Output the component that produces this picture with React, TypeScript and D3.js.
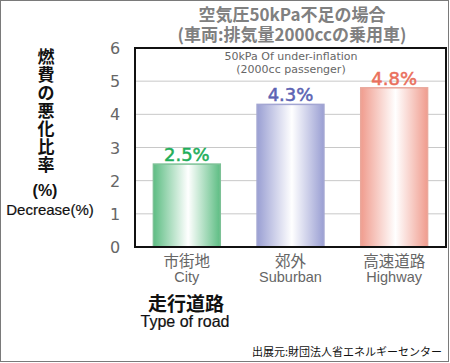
import React, { useRef, useEffect } from 'react';
import * as d3 from 'd3';

const roadsJa = ['市街地', '郊外', '高速道路'];
const roadsEn = ['City', 'Suburban', 'Highway'];
const decrease = [2.5, 4.3, 4.8];
const yTicks = [0, 1, 2, 3, 4, 5, 6];
const barColors = ['#5dbd83', '#9a9fd3', '#f09c8e'];
const barEdges = ['#7cc196', '#a3a6d2', '#eaa89c'];
const labelColors = ['#1fae5a', '#5c63b3', '#ea6f5c'];
const yTitle = ['燃', '費', 'の', '悪', '化', '比', '率'];

const App = () => {
  const ref = useRef(null);

  useEffect(() => {
    const svg = d3.select(ref.current);
    svg.selectAll('*').remove();

    const width = 450;
    const height = 363;
    const margin = { top: 48, right: 4, bottom: 116, left: 135 };
    const jp = "'Noto Sans CJK JP', 'DejaVu Sans', sans-serif";
    const lat = "'DejaVu Sans', sans-serif";
    const ari = "'Liberation Sans', Arial, sans-serif";

    svg.append('rect')
      .attr('x', 0.5).attr('y', 0.5)
      .attr('width', width - 2).attr('height', height - 2)
      .attr('fill', '#fff').attr('stroke', '#7a7a7a');

    const x = d3.scaleBand().domain(roadsJa).range([margin.left, width - margin.right]).padding(0);
    const y = d3.scaleLinear().domain([0, 6]).range([height - margin.bottom, margin.top]);
    const barW = x.bandwidth() * 0.645;

    // gradients
    const defs = svg.append('defs');
    barColors.forEach((c, i) => {
      const g = defs.append('linearGradient').attr('id', 'g' + i)
        .attr('x1', 0).attr('x2', 1).attr('y1', 0).attr('y2', 0);
      g.append('stop').attr('offset', '0%').attr('stop-color', c);
      g.append('stop').attr('offset', '52%').attr('stop-color', '#fff');
      g.append('stop').attr('offset', '100%').attr('stop-color', c);
    });

    // grid
    svg.append('g').selectAll('line').data(yTicks.slice(1, -1)).join('line')
      .attr('x1', margin.left).attr('x2', width - margin.right)
      .attr('y1', d => y(d)).attr('y2', d => y(d))
      .attr('stroke', '#c8c8c8').attr('stroke-width', 1);

    // bars
    svg.append('g').selectAll('rect').data(decrease).join('rect')
      .attr('x', (d, i) => x(roadsJa[i]) + (x.bandwidth() - barW) / 2)
      .attr('y', d => y(d))
      .attr('width', barW)
      .attr('height', d => y(0) - y(d))
      .attr('fill', (d, i) => `url(#g${i})`)
      .attr('stroke', (d, i) => barEdges[i]).attr('stroke-width', 1.5);

    // value labels
    svg.append('g').selectAll('text').data(decrease).join('text')
      .attr('x', (d, i) => x(roadsJa[i]) + x.bandwidth() / 2)
      .attr('y', d => y(d) - 3)
      .attr('text-anchor', 'middle')
      .attr('font-family', lat).attr('font-size', 18)
      .attr('fill', (d, i) => labelColors[i])
      .attr('stroke', (d, i) => labelColors[i]).attr('stroke-width', 0.5)
      .text(d => d.toFixed(1) + '%');

    // plot frame
    svg.append('rect')
      .attr('x', margin.left).attr('y', margin.top)
      .attr('width', width - margin.right - margin.left)
      .attr('height', y(0) - margin.top)
      .attr('fill', 'none').attr('stroke', '#111').attr('stroke-width', 2);

    // y tick labels
    svg.append('g').selectAll('text').data(yTicks).join('text')
      .attr('x', 115).attr('y', d => y(d) + 6)
      .attr('text-anchor', 'middle')
      .attr('font-family', lat).attr('font-size', 16)
      .attr('fill', '#666')
      .text(d => d);

    // x tick labels
    const xl = svg.append('g').selectAll('g').data(roadsJa).join('g');
    xl.append('text')
      .attr('x', d => x(d) + x.bandwidth() / 2).attr('y', 266.5)
      .attr('text-anchor', 'middle')
      .attr('font-family', jp).attr('font-size', 15.5)
      .attr('fill', '#666')
      .text(d => d);
    xl.append('text')
      .attr('x', d => x(d) + x.bandwidth() / 2).attr('y', 282)
      .attr('text-anchor', 'middle')
      .attr('font-family', ari).attr('font-size', 14.5)
      .attr('fill', '#666')
      .text((d, i) => roadsEn[i]);

    // titles
    svg.append('text')
      .attr('x', 292).attr('y', 21).attr('text-anchor', 'middle')
      .attr('font-family', jp).attr('font-size', 17).attr('font-weight', 'bold')
      .attr('fill', '#808080')
      .text('空気圧50kPa不足の場合');
    svg.append('text')
      .attr('x', 292).attr('y', 41).attr('text-anchor', 'middle')
      .attr('font-family', jp).attr('font-size', 17).attr('font-weight', 'bold')
      .attr('fill', '#808080')
      .text('(車両:排気量2000ccの乗用車)');
    svg.append('text')
      .attr('x', 291).attr('y', 59.5).attr('text-anchor', 'middle')
      .attr('font-family', lat).attr('font-size', 11)
      .attr('fill', '#666')
      .text('50kPa Of under-inflation');
    svg.append('text')
      .attr('x', 291).attr('y', 72.5).attr('text-anchor', 'middle')
      .attr('font-family', lat).attr('font-size', 11)
      .attr('fill', '#666')
      .text('(2000cc passenger)');

    // y axis title, one character per row
    svg.append('g').selectAll('text').data(yTitle).join('text')
      .attr('x', 46)
      .attr('y', (d, i) => 63 + i * 18)
      .attr('text-anchor', 'middle')
      .attr('font-family', jp).attr('font-size', 17).attr('font-weight', 'bold')
      .attr('fill', '#111')
      .text(d => d);
    svg.append('text')
      .attr('x', 45).attr('y', 196).attr('text-anchor', 'middle')
      .attr('font-family', ari).attr('font-size', 16).attr('font-weight', 'bold')
      .attr('fill', '#111')
      .text('(%)');
    svg.append('text')
      .attr('x', 50).attr('y', 215).attr('text-anchor', 'middle')
      .attr('font-family', ari).attr('font-size', 15)
      .attr('fill', '#111').attr('stroke', '#111').attr('stroke-width', 0.2)
      .text('Decrease(%)');

    // x axis title
    svg.append('text')
      .attr('x', 186).attr('y', 311).attr('text-anchor', 'middle')
      .attr('font-family', jp).attr('font-size', 19).attr('font-weight', 'bold')
      .attr('fill', '#111')
      .text('走行道路');
    svg.append('text')
      .attr('x', 185).attr('y', 327).attr('text-anchor', 'middle')
      .attr('font-family', ari).attr('font-size', 16)
      .attr('fill', '#111').attr('stroke', '#111').attr('stroke-width', 0.2)
      .text('Type of road');

    // source
    svg.append('text')
      .attr('x', 442).attr('y', 356).attr('text-anchor', 'end')
      .attr('font-family', jp).attr('font-size', 11)
      .attr('fill', '#111')
      .text('出展元:財団法人省エネルギーセンター');
  }, []);

  return (
    <div style={{ position: 'fixed', left: 0, top: 0 }}>
      <svg ref={ref} width="450" height="363" style={{ display: 'block' }}></svg>
    </div>
  );
};

export default App;
